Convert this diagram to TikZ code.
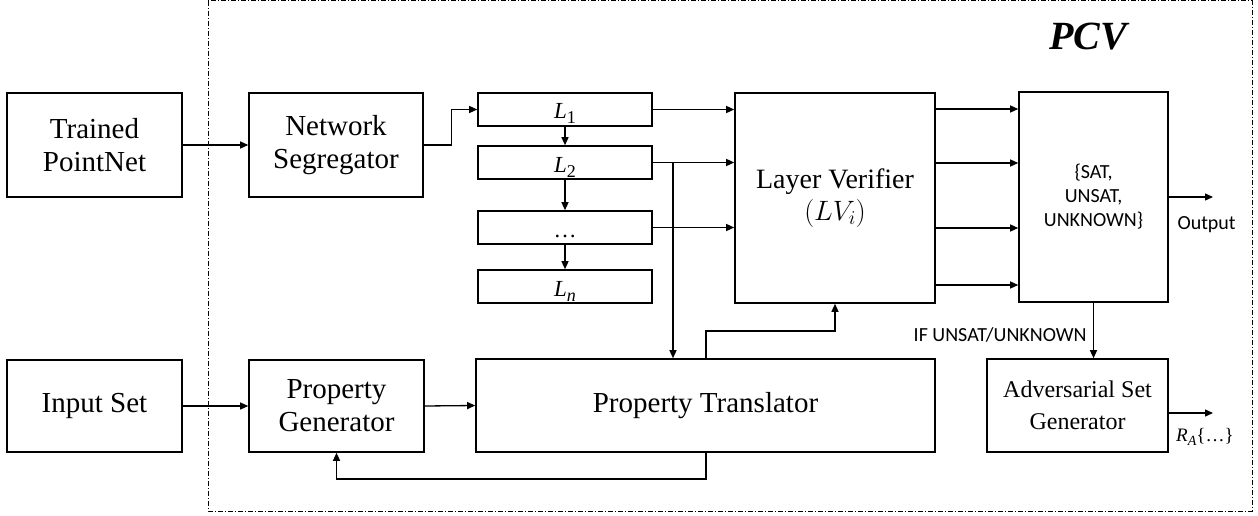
\documentclass[tikz,border=0pt]{standalone}
\usepackage{fix-cm}
\usepackage{fontspec}
\setmainfont{Liberation Serif}
\newfontfamily\sansfnt{Carlito}
\newcommand{\laybl}[1]{\textit{L}\raisebox{-5pt}{\fontsize{18}{18}\selectfont #1}}
\usetikzlibrary{arrows.meta,calc}
\begin{document}
\begin{tikzpicture}[x=1pt,y=-1pt,
  box/.style={draw, line width=1.6pt, inner sep=0pt, align=center, font=\fontsize{29}{33}\selectfont},
  lay/.style={box, minimum width=174pt, minimum height=33pt, text height=19pt, text depth=0pt, font=\fontsize{23}{26}\selectfont},
  conn/.style={line width=1.3pt, -{Triangle[length=8pt,width=7pt]}},
  sans/.style={font=\sansfnt\fontsize{20}{24}\selectfont},
  frame/.style={line width=1pt, dash pattern=on 5pt off 2pt on 1pt off 2pt}]

\useasboundingbox (0,0) rectangle (1258,516);

\draw[frame] (208,1) rectangle (1252,511);
\node[font=\fontsize{40}{44}\selectfont\bfseries\itshape] (pcv) at (1088,37) {PCV};

\node[box, minimum width=175pt, minimum height=104pt] (tp) at (94.5,145) {Trained\\PointNet};
\node[box, minimum width=174pt, minimum height=104pt] (ns) at (336,145) {Network\\Segregator};
\node[lay] (l1) at (565,109.5) {\laybl{1}};
\node[lay] (l2) at (565,162.5) {\laybl{2}};
\node[lay] (ld) at (565,227.5) {\dots};
\node[lay] (ln) at (565,286.5) {\laybl{\textit{n}}};
\node[box, minimum width=200pt, minimum height=210pt, font=\fontsize{28}{32}\selectfont] (lv) at (835,198) {Layer Verifier\\$(LV_i)$};
\node[box, minimum width=149pt, minimum height=210pt, sans] (res) at (1093.5,197) {\{SAT,\\UNSAT,\\UNKNOWN\}};

\node[box, minimum width=175pt, minimum height=92pt] (is) at (94.5,406) {Input Set};
\node[box, minimum width=175pt, minimum height=92pt] (pg) at (336.5,406) {Property\\Generator};
\node[box, minimum width=459pt, minimum height=93pt] (pt) at (705.5,405.5) {Property Translator};
\node[box, minimum width=181pt, minimum height=93pt, font=\fontsize{24}{32}\selectfont] (asg) at (1077.5,405.5) {Adversarial Set\\Generator};

\node[sans, anchor=west] (outl) at (1174,225) {Output};
\node[sans, anchor=east] (ifl) at (1090,335) {IF UNSAT/UNKNOWN};
\node[anchor=west, inner sep=0pt, font=\fontsize{19}{22}\selectfont] (ra) at (1176,437) {\textit{R}\raisebox{-4pt}{\fontsize{14}{14}\selectfont\textit{A}}\{\dots\}};

\coordinate (jx) at (673,0);
\coordinate (ptx) at (706,331);
\coordinate (fb) at (706,479);
\coordinate (oend) at (1213,197);
\coordinate (rend) at (1213,413);

\draw[conn] (tp.east) -- (ns.west);
\draw[conn] (ns.east) -- ++(28,0) |- (l1.west);
\draw[conn] (l1.south) -- (l2.north);
\draw[conn] (l2.south) -- (ld.north);
\draw[conn] (ld.south) -- (ln.north);
\draw[conn] (l1.east) -- (l1.east -| lv.west);
\draw[conn] (l2.east) -- (l2.east -| lv.west);
\draw[conn] (ld.east) -- (ld.east -| lv.west);
\draw[conn] (l2.east -| jx) -- (jx |- pt.north);
\draw[conn] (ptx |- pt.north) -- (ptx) -| (lv.south);
\foreach \yy in {109,163,228,285} \draw[conn] (lv.east |- 0,\yy) -- (res.west |- 0,\yy);
\draw[conn] (res.east) -- (oend);
\draw[conn] (res.south) -- (res.south |- asg.north);
\draw[conn] (asg.east |- rend) -- (rend);
\draw[conn] (is.east) -- (pg.west);
\draw[conn] (pg.east) -- (pt.west);
\draw[conn] (fb |- pt.south) -- (fb) -| (pg.south);
\end{tikzpicture}
\end{document}
